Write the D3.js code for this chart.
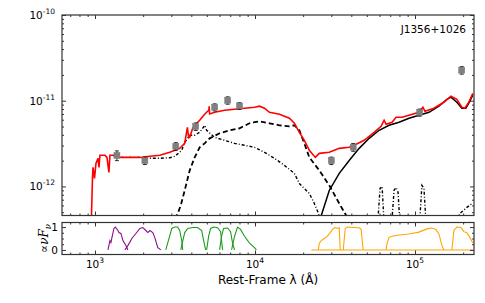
<!DOCTYPE html>
<html>
<head>
<meta charset="utf-8">
<script src="https://cdn.jsdelivr.net/npm/d3@7/dist/d3.min.js"></script>
<style>
  body { margin: 0; background: #fff; }
  svg { font-family: "DejaVu Sans", sans-serif; }
</style>
</head>
<body>
<div id="chart"></div>
<script>
// SED of J1356+1026: photometry, model components and filter curves
var obsWave = [1371, 2050, 3200, 4260, 5600, 6750, 8000, 30000, 41100, 107000, 196000];
var obsFlux = [2.3e-12, 2.0e-12, 2.94e-12, 5.0e-12, 8.4e-12, 1.01e-11, 8.7e-12, 2.0e-12, 2.87e-12, 7.3e-12, 2.27e-11];
var obsErr = [0.3e-12, 0.2e-12, 0.3e-12, 0.5e-12, 0.8e-12, 1.0e-12, 0.8e-12, 0.2e-12, 0.3e-12, 0.7e-12, 2.3e-12];

// total model (red)
var totalModel = [[945, 3e-13], [965, 1.3e-12], [972, 1.67e-12], [993, 1.24e-12], [1014, 1.86e-12],
  [1044, 2.13e-12], [1059, 1.67e-12], [1074, 2.31e-12], [1122, 2.31e-12], [1154, 2.31e-12],
  [1188, 2.18e-12], [1222, 1.46e-12], [1240, 2.31e-12], [1295, 2.31e-12], [1431, 2.18e-12],
  [1652, 2.18e-12], [1908, 2.18e-12], [2202, 2.25e-12], [2541, 2.31e-12], [2934, 2.5e-12],
  [3385, 2.78e-12], [3637, 3.18e-12], [3780, 4.9e-12], [3850, 3.7e-12], [3908, 3.74e-12],
  [4079, 4.77e-12], [4321, 5.45e-12], [4511, 5.92e-12], [4847, 6.95e-12], [5150, 7.8e-12],
  [5170, 8.63e-12], [5207, 7.0e-12], [5594, 7.33e-12], [6457, 7.74e-12], [7453, 7.96e-12],
  [8602, 8.17e-12], [9929, 8.4e-12], [10670, 8.63e-12], [11460, 8.17e-12], [12310, 7.33e-12],
  [14210, 6.95e-12], [15270, 6.59e-12], [16410, 6.24e-12], [17630, 5.45e-12], [18940, 4.28e-12],
  [20340, 3.45e-12], [21860, 2.64e-12], [23830, 2.18e-12], [25230, 2.43e-12], [29120, 2.5e-12],
  [33620, 2.78e-12], [38800, 2.86e-12], [42900, 3.1e-12], [48110, 3.45e-12], [55540, 4.28e-12],
  [61400, 5.03e-12], [64120, 5.92e-12], [65970, 5.31e-12], [71910, 5.61e-12], [76150, 6.41e-12],
  [82990, 6.41e-12], [91750, 6.77e-12], [105900, 7.33e-12], [112100, 8.4e-12], [115400, 7.54e-12],
  [131300, 8.17e-12], [151600, 9.6e-12], [167600, 1.13e-11], [182700, 1.04e-11], [196300, 8.4e-12],
  [204900, 8.17e-12], [217000, 9.6e-12], [229800, 1.22e-11]];

// AGN torus (black solid)
var torusModel = [[24500, 3e-13], [25960, 4.58e-13], [29120, 8.98e-13], [33620, 1.42e-12], [38800, 2.01e-12],
  [44770, 2.78e-12], [51700, 3.64e-12], [59670, 4.52e-12], [68870, 5.17e-12], [79490, 5.61e-12],
  [91750, 6.24e-12], [105900, 6.77e-12], [122300, 7.33e-12], [141100, 8.63e-12], [158300, 1.04e-11],
  [167600, 1.1e-11], [182700, 9.6e-12], [196300, 8.17e-12], [207900, 8.17e-12], [217000, 9.35e-12],
  [229800, 1.16e-11]];

// old stars (black dashed)
var oldStars = [[3150, 4.2e-13], [3290, 4.83e-13], [3435, 6.0e-13], [3637, 8.98e-13], [3908, 1.54e-12],
  [4198, 2.18e-12], [4511, 2.86e-12], [4847, 3.18e-12], [5207, 3.64e-12], [6010, 4.17e-12],
  [6936, 4.52e-12], [8006, 4.77e-12], [9240, 5.45e-12], [9929, 5.61e-12], [10670, 5.76e-12],
  [12310, 5.45e-12], [14210, 5.17e-12], [16410, 5.03e-12], [17630, 5.17e-12], [18940, 4.52e-12],
  [20340, 3.18e-12], [21860, 2.18e-12], [25230, 1.54e-12], [29120, 1.03e-12], [33620, 6.33e-13],
  [37160, 4.58e-13], [39000, 3.8e-13]];

// young stars + dust emission (black dash-dot); UV part lies under the red total
var youngStars = [[1300, 2.31e-12], [1431, 2.18e-12], [1652, 2.18e-12], [1908, 2.18e-12], [2202, 2.13e-12],
  [2541, 2.13e-12], [2934, 2.16e-12],
  [3150, 2.24e-12], [3485, 2.64e-12], [3637, 3.27e-12], [3908, 3.95e-12], [4198, 3.95e-12],
  [4511, 4.28e-12], [4709, 4.77e-12], [4847, 5.17e-12], [4987, 4.52e-12], [5594, 3.74e-12],
  [6457, 3.45e-12], [7453, 3.18e-12], [8602, 3.02e-12], [9929, 2.86e-12], [11460, 2.5e-12],
  [13230, 2.13e-12], [15270, 1.76e-12], [17630, 1.42e-12], [18940, 1.08e-12], [21860, 8.28e-13],
  [23490, 6.33e-13], [24520, 5.24e-13], [25960, 3.8e-13], [58000, 3e-13], [60500, 9.5e-13],
  [62300, 1.0e-12], [64500, 3e-13], [71000, 3e-13], [74000, 9.0e-13], [76200, 9.7e-13],
  [78400, 8.5e-13], [81000, 3e-13], [106000, 3e-13], [110500, 1.03e-12], [113800, 9.5e-13],
  [118000, 3e-13], [180000, 3e-13], [190000, 4.8e-13], [211000, 5.7e-13], [230000, 6.4e-13]];

// filter transmission curves
var galexFUV = [[1205, 0], [1240, 0.41], [1258, 0.32], [1276, 0.54], [1313, 0.94], [1340, 1.0], [1391, 0.85],
  [1411, 0.76], [1452, 0.72], [1495, 0.41], [1561, 0.19], [1605, 0]];
var galexNUV = [[1538, 0], [1605, 0.19], [1700, 0.5], [1801, 0.72], [1908, 0.94], [1991, 0.98], [2079, 0.85],
  [2139, 0.76], [2202, 0.85], [2298, 0.76], [2365, 0.54], [2469, 0.1], [2578, 0]];
var sdssU = [[2770, 0], [2934, 0.63], [3019, 0.94], [3150, 1.0], [3289, 1.0], [3385, 0.85], [3484, 0.41], [3534, 0]];
var sdssG = [[3435, 0], [3637, 0.76], [3797, 0.94], [4079, 0.98], [4383, 0.98], [4643, 0.85], [4776, 0.41], [4916, 0]];
var sdssR = [[4987, 0], [5133, 0.6], [5283, 0.94], [5513, 1.0], [5839, 0.97], [6096, 0.8], [6275, 0]];
var sdssI = [[6010, 0], [6185, 0.6], [6364, 0.94], [6741, 0.96], [7037, 0.8], [7241, 0.3], [7453, 0]];
var sdssZ = [[7139, 0], [7453, 0.6], [7780, 1.0], [8124, 0.9], [8602, 0.6], [9240, 0.3], [9929, 0.1], [10210, 0]];
var wiseBase = [[22500, 0], [230000, 0]];
var wiseW1 = [[24870, 0], [25230, 0.28], [25960, 0.41], [27100, 0.5], [28300, 0.59], [29540, 0.76],
  [30840, 0.94], [31750, 0.98], [32660, 0.94], [33620, 0.98], [34100, 0]];
var wiseW2 = [[35610, 0], [36650, 0.94], [37710, 1.0], [41690, 0.98], [44770, 0.97], [46080, 0.9], [47430, 0]];
var wiseW3 = [[65970, 0], [66920, 0.3], [68870, 0.55], [71910, 0.6], [79490, 0.65], [91750, 0.7],
  [105900, 0.78], [118800, 0.92], [127600, 0.96], [135100, 0.9], [141100, 0.7], [147300, 0.2], [151600, 0]];
var wiseW4 = [[170100, 0], [175000, 0.85], [182700, 1.0], [193600, 0.98], [202000, 0.8], [210900, 0.75],
  [220100, 0.55], [229800, 0.3]];

var xMajor = [1e3, 1e4, 1e5];
var yMajor = [1e-12, 1e-11, 1e-10];
var yMajorExp = ["-12", "-11", "-10"];
var filterTicks = [0, 1];

var svgWidth = 485, svgHeight = 303;
var left = 62, right = 474;
var mainTop = 15, mainBottom = 215.5;
var subTop = 222.5, subBottom = 254.5;

var svg = d3.select("#chart").append("svg")
  .attr("width", svgWidth)
  .attr("height", svgHeight);

var x = d3.scaleLog().domain([622, 233800]).range([left, right]);
var y = d3.scaleLog().domain([4.58e-13, 1e-10]).range([mainBottom, mainTop]);
var yf = d3.scaleLinear().domain([-0.2, 1.2]).range([subBottom, subTop]);

function minorLog(lo, hi) {
  var out = [];
  for (var e = Math.floor(Math.log10(lo)); e <= Math.ceil(Math.log10(hi)); e++) {
    for (var m = 2; m <= 9; m++) {
      var v = m * Math.pow(10, e);
      if (v >= lo && v <= hi) out.push(v);
    }
  }
  return out;
}
var xMinor = minorLog(622, 233800);
var yMinor = minorLog(4.58e-13, 1e-10);

// inward ticks on all four sides of a panel
function addTicks(g, top, bottom, yScale, yMaj, yMin) {
  [[d3.axisBottom, bottom, xMajor, 4], [d3.axisBottom, bottom, xMinor, 2],
   [d3.axisTop, top, xMajor, 4], [d3.axisTop, top, xMinor, 2]].forEach(function(a) {
    g.append("g")
      .attr("transform", "translate(0," + a[1] + ")")
      .call(a[0](x).tickValues(a[2]).tickSize(-a[3]).tickFormat(""))
      .call(function(s) { s.select(".domain").remove(); });
  });
  [[d3.axisLeft, left, yMaj, 4], [d3.axisLeft, left, yMin, 2],
   [d3.axisRight, right, yMaj, 4], [d3.axisRight, right, yMin, 2]].forEach(function(a) {
    g.append("g")
      .attr("transform", "translate(" + a[1] + ",0)")
      .call(a[0](yScale).tickValues(a[2]).tickSize(-a[3]).tickFormat(""))
      .call(function(s) { s.select(".domain").remove(); });
  });
  g.selectAll(".tick line").attr("stroke", "#000").attr("stroke-width", 0.8);
}

// ---- main panel
svg.append("clipPath").attr("id", "clipMain")
  .append("rect").attr("x", left).attr("y", mainTop).attr("width", right - left).attr("height", mainBottom - mainTop);

var main = svg.append("g");
var plot = main.append("g").attr("clip-path", "url(#clipMain)");

var line = d3.line().x(d => x(d[0])).y(d => y(d[1]));

plot.append("path").datum(youngStars)
  .attr("d", line).attr("fill", "none").attr("stroke", "#000")
  .attr("stroke-width", 1.4).attr("stroke-dasharray", "3,2,1,2");
plot.append("path").datum(oldStars)
  .attr("d", line).attr("fill", "none").attr("stroke", "#000")
  .attr("stroke-width", 1.8).attr("stroke-dasharray", "5,3");
plot.append("path").datum(torusModel)
  .attr("d", line).attr("fill", "none").attr("stroke", "#000").attr("stroke-width", 1.5);
plot.append("path").datum(totalModel)
  .attr("d", line).attr("fill", "none").attr("stroke", "#ff0000").attr("stroke-width", 1.6);

var pts = plot.selectAll(".pt").data(obsWave).enter().append("g").attr("class", "pt");
pts.append("line")
  .attr("x1", d => x(d)).attr("x2", d => x(d))
  .attr("y1", (d, i) => y(obsFlux[i] - obsErr[i]))
  .attr("y2", (d, i) => y(obsFlux[i] + obsErr[i]))
  .attr("stroke", "#000").attr("stroke-width", 0.8);
[-1, 1].forEach(function(s) {
  pts.append("line")
    .attr("x1", d => x(d) - 2).attr("x2", d => x(d) + 2)
    .attr("y1", (d, i) => y(obsFlux[i] + s * obsErr[i]))
    .attr("y2", (d, i) => y(obsFlux[i] + s * obsErr[i]))
    .attr("stroke", "#000").attr("stroke-width", 0.8);
});
pts.append("rect")
  .attr("x", d => x(d) - 3)
  .attr("y", (d, i) => y(obsFlux[i]) - 3)
  .attr("width", 6).attr("height", 6)
  .attr("fill", "#808080").attr("stroke", "#777").attr("stroke-width", 0.5);

addTicks(main, mainTop, mainBottom, y, yMajor, yMinor);
main.append("rect").attr("x", left).attr("y", mainTop)
  .attr("width", right - left).attr("height", mainBottom - mainTop)
  .attr("fill", "none").attr("stroke", "#333").attr("stroke-width", 1.2);

yMajor.forEach(function(v, i) {
  var t = main.append("text").attr("x", 55).attr("y", y(v) + 4)
    .attr("text-anchor", "end").attr("font-size", 10.5).attr("fill", "#000");
  t.append("tspan").text("10");
  t.append("tspan").attr("dy", -5).attr("font-size", 7.5).text(yMajorExp[i]);
});

main.append("text").attr("x", 466).attr("y", 33)
  .attr("text-anchor", "end").attr("font-size", 10.5).text("J1356+1026");

// ---- filter panel
svg.append("clipPath").attr("id", "clipSub")
  .append("rect").attr("x", left).attr("y", subTop).attr("width", right - left).attr("height", subBottom - subTop);
var sub = svg.append("g");
var subPlot = sub.append("g").attr("clip-path", "url(#clipSub)");
var fline = d3.line().x(d => x(d[0])).y(d => yf(d[1]));

[[galexFUV, "#8b0e8b"], [galexNUV, "#8b0e8b"],
 [sdssU, "#1e9a1e"], [sdssG, "#1e9a1e"], [sdssR, "#1e9a1e"], [sdssI, "#1e9a1e"], [sdssZ, "#1e9a1e"],
 [wiseBase, "#ffa500"], [wiseW1, "#ffa500"], [wiseW2, "#ffa500"], [wiseW3, "#ffa500"], [wiseW4, "#ffa500"]
].forEach(function(f) {
  subPlot.append("path").datum(f[0]).attr("d", fline)
    .attr("fill", "none").attr("stroke", f[1]).attr("stroke-width", 1.1);
});

addTicks(sub, subTop, subBottom, yf, filterTicks, [0.25, 0.5, 0.75]);
sub.append("rect").attr("x", left).attr("y", subTop)
  .attr("width", right - left).attr("height", subBottom - subTop)
  .attr("fill", "none").attr("stroke", "#333").attr("stroke-width", 1.2);

filterTicks.forEach(function(v) {
  sub.append("text").attr("x", 58).attr("y", yf(v) + 4)
    .attr("text-anchor", "end").attr("font-size", 10.5).text(v);
});

xMajor.forEach(function(v) {
  var t = sub.append("text").attr("x", x(v)).attr("y", 268)
    .attr("text-anchor", "middle").attr("font-size", 10.5);
  t.append("tspan").text("10");
  t.append("tspan").attr("dy", -5).attr("font-size", 7.5).text(Math.round(Math.log10(v)));
});

svg.append("text").attr("x", 268).attr("y", 284)
  .attr("text-anchor", "middle").attr("font-size", 12).text("Rest-Frame λ (Å)");

var yl = svg.append("text")
  .attr("transform", "translate(47.5," + ((subTop + subBottom) / 2) + ") rotate(-90)")
  .attr("text-anchor", "middle").attr("font-size", 12)
  .attr("font-family", "'DejaVu Serif', serif").attr("font-style", "italic");
yl.append("tspan").attr("font-style", "normal").text("∝");
yl.append("tspan").text("νF");
yl.append("tspan").attr("dy", 3).attr("font-size", 8.5).text("ν");
</script>
</body>
</html>
